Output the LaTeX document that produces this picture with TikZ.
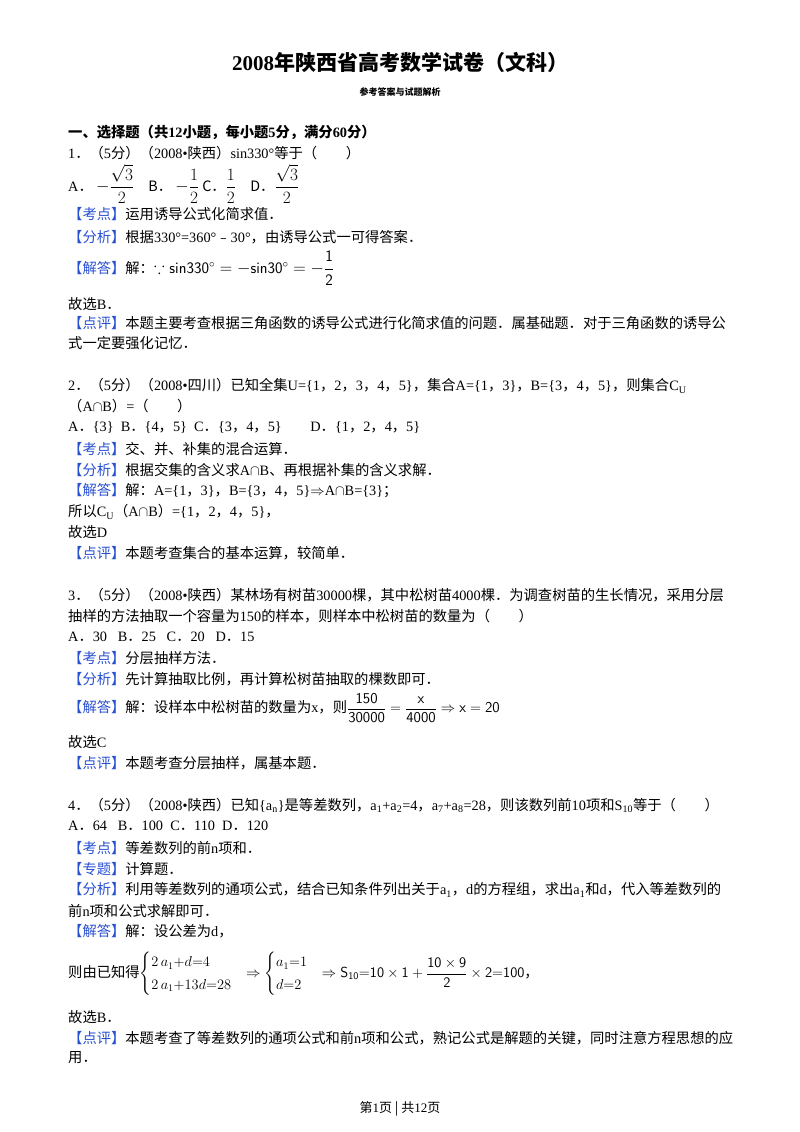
\documentclass[tikz,border=0pt]{standalone}
\usepackage{amsmath,amssymb}
\usepackage{fontspec}
\setmainfont{Liberation Serif}
\newfontfamily\cjkfont{Noto Sans CJK SC}
\newfontfamily\latinfont{Liberation Serif}
\XeTeXinterchartokenstate=1
\newXeTeXintercharclass\cjkclass
\newcount\cc
\cc="3000 \loop \XeTeXcharclass\cc=\cjkclass \advance\cc by 1 \ifnum\cc<"A000 \repeat
\cc="FE30 \loop \XeTeXcharclass\cc=\cjkclass \advance\cc by 1 \ifnum\cc<"FE70 \repeat
\cc="FF00 \loop \XeTeXcharclass\cc=\cjkclass \advance\cc by 1 \ifnum\cc<"FFF0 \repeat
\XeTeXinterchartoks 0 \cjkclass = {\cjkfont}
\XeTeXinterchartoks 4095 \cjkclass = {\cjkfont}
\XeTeXinterchartoks \cjkclass 0 = {\latinfont}
\definecolor{lab}{RGB}{40,80,210}
\newcommand{\lab}[1]{\textcolor{lab}{【#1】}}
\newcommand{\sbs}[1]{\textsubscript{#1}}
\tikzset{t/.style={anchor=west,inner sep=0pt,font=\fontsize{14.3}{17}\selectfont},
 hd/.style={anchor=center,inner sep=0pt}}
\begin{document}
\begin{tikzpicture}[x=1pt,y=-1pt]
\useasboundingbox[fill=white] (0,0) rectangle (800,1132);
\node[hd,font=\fontsize{21}{25}\selectfont\bfseries] (title) at (400,62) {2008年陕西省高考数学试卷（文科）};
\node[hd,font=\fontsize{9}{11}\selectfont\bfseries] (sub) at (400,92) {参考答案与试题解析};
\node[t,font=\fontsize{14.3}{17}\selectfont\bfseries] (sec) at (68,132) {一、选择题（共12小题，每小题5分，满分60分）};
% Q1
\node[t] (q1) at (68,153) {1．（5分）（2008•陕西）sin330°等于（\qquad）};
\node[t] (q1o) at (68,184) {A．\ {\fontsize{16}{18}\selectfont$-\dfrac{\sqrt3}{2}$}\quad B．\ {\fontsize{16}{18}\selectfont$-\dfrac12$} C．{\fontsize{16}{18}\selectfont$\dfrac12$}\quad D．{\fontsize{16}{18}\selectfont$\dfrac{\sqrt3}{2}$}};
\node[t] (q1k) at (68,214) {\lab{考点}运用诱导公式化简求值．};
\node[t] (q1f) at (68,237) {\lab{分析}根据330°=360°﹣30°，由诱导公式一可得答案．};
\node[t] (q1j) at (68,268) {\lab{解答}解：{\fontsize{16}{18}\selectfont$\because\mathsf{sin330^\circ=-sin30^\circ=-\dfrac12}$}};
\node[t] (q1x) at (68,304) {故选B．};
\node[t] (q1p) at (68,323) {\lab{点评}本题主要考查根据三角函数的诱导公式进行化简求值的问题．属基础题．对于三角函数的诱导公};
\node[t] (q1p2) at (68,343) {式一定要强化记忆．};
% Q2
\node[t] (q2) at (68,386) {2．（5分）（2008•四川）已知全集U=\{1，2，3，4，5\}，集合A=\{1，3\}，B=\{3，4，5\}，则集合C\sbs{U}};
\node[t] (q2b) at (68,406) {（A$\cap$B）=（\qquad）};
\node[t] (q2o) at (68,427) {A．\{3\}\ \ B．\{4，5\}\ \ C．\{3，4，5\}\qquad D．\{1，2，4，5\}};
\node[t] (q2k) at (68,449) {\lab{考点}交、并、补集的混合运算．};
\node[t] (q2f) at (68,470) {\lab{分析}根据交集的含义求A$\cap$B、再根据补集的含义求解．};
\node[t] (q2j) at (68,491) {\lab{解答}解：A=\{1，3\}，B=\{3，4，5\}$\Rightarrow$A$\cap$B=\{3\}；};
\node[t] (q2s) at (68,512) {所以C\sbs{U}（A$\cap$B）=\{1，2，4，5\}，};
\node[t] (q2x) at (68,532) {故选D};
\node[t] (q2p) at (68,553) {\lab{点评}本题考查集合的基本运算，较简单．};
% Q3
\node[t] (q3) at (68,595) {3．（5分）（2008•陕西）某林场有树苗30000棵，其中松树苗4000棵．为调查树苗的生长情况，采用分层};
\node[t] (q3b) at (68,616) {抽样的方法抽取一个容量为150的样本，则样本中松树苗的数量为（\qquad）};
\node[t] (q3o) at (68,637) {A．30\ \ \ B．25\ \ \ C．20\ \ \ D．15};
\node[t] (q3k) at (68,658) {\lab{考点}分层抽样方法．};
\node[t] (q3f) at (68,679) {\lab{分析}先计算抽取比例，再计算松树苗抽取的棵数即可．};
\node[t] (q3j) at (68,708) {\lab{解答}解：设样本中松树苗的数量为x，则{\fontsize{15}{17}\selectfont$\mathsf{\dfrac{150}{30000}=\dfrac{x}{4000}\Rightarrow x=20}$}};
\node[t] (q3x) at (68,742) {故选C};
\node[t] (q3p) at (68,763) {\lab{点评}本题考查分层抽样，属基本题．};
% Q4
\node[t] (q4) at (68,805) {4．（5分）（2008•陕西）已知\{a\sbs{n}\}是等差数列，a\sbs{1}+a\sbs{2}=4，a\sbs{7}+a\sbs{8}=28，则该数列前10项和S\sbs{10}等于（\qquad）};
\node[t] (q4o) at (68,826) {A．64\ \ \ B．100\ \ C．110\ \ D．120};
\node[t] (q4k) at (68,848) {\lab{考点}等差数列的前n项和．};
\node[t] (q4z) at (68,869) {\lab{专题}计算题．};
\node[t] (q4f) at (68,890) {\lab{分析}利用等差数列的通项公式，结合已知条件列出关于a\sbs{1}，d的方程组，求出a\sbs{1}和d，代入等差数列的};
\node[t] (q4f2) at (68,911) {前n项和公式求解即可．};
\node[t] (q4j) at (68,931) {\lab{解答}解：设公差为d，};
\node[t] (q4e) at (68,974) {则由已知得{\fontsize{14.5}{17}\selectfont$\mathsf{\begin{cases}2\,a_1{+}d{=}4\\[2pt] 2\,a_1{+}13d{=}28\end{cases}\!\!\Rightarrow\begin{cases}a_1{=}1\\[2pt] d{=}2\end{cases}\!\!\Rightarrow S_{10}{=}10\times1+\dfrac{10\times9}{2}\times2{=}100}$}，};
\node[t] (q4x) at (68,1017) {故选B．};
\node[t] (q4p) at (68,1038) {\lab{点评}本题考查了等差数列的通项公式和前n项和公式，熟记公式是解题的关键，同时注意方程思想的应};
\node[t] (q4p2) at (68,1058) {用．};
\node[hd,font=\fontsize{13}{15}\selectfont] (foot) at (400,1109) {第1页 | 共12页};
\end{tikzpicture}
\end{document}
